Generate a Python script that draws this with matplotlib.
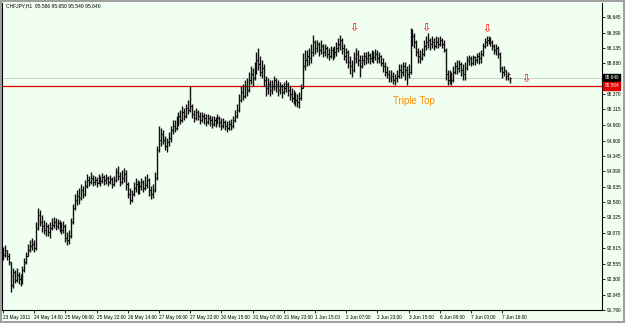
import matplotlib
matplotlib.use("Agg")
import matplotlib.pyplot as plt
import matplotlib.transforms as mtransforms
import numpy as np

plt.rcParams["font.family"] = ["Liberation Sans", "DejaVu Sans"]

# ---- data (CHFJPY H1) ----
symbol = "CHFJPY,H1"
last_ohlc = [95.586, 95.650, 95.549, 95.640]

closes = [
    92.70, 92.78, 92.68, 92.58, 92.20, 92.42, 92.29, 92.37, 92.30, 92.25,
    92.45, 92.58, 92.68, 92.78, 92.85, 92.88, 92.82, 93.15, 93.37, 93.25,
    93.18, 93.12, 93.18, 93.08, 93.15, 93.20, 93.25, 93.18, 93.23, 93.15,
    93.12, 93.18, 92.98, 92.95, 93.02, 93.25, 93.48, 93.61, 93.68, 93.65,
    93.78, 93.71, 93.85, 93.95, 93.91, 93.98, 93.91, 93.95, 93.90, 93.96,
    93.93, 94.00, 93.95, 93.98, 93.91, 93.96, 93.88, 93.95, 94.08, 94.01,
    93.91, 93.98, 94.05, 93.88, 93.71, 93.61, 93.71, 93.81, 93.88, 93.78,
    93.85, 93.91, 93.81, 93.86, 93.95, 93.78, 93.71, 93.78, 93.98, 94.44,
    94.61, 94.71, 94.61, 94.51, 94.57, 94.64, 94.77, 94.84, 94.81, 94.91,
    95.00, 94.94, 95.07, 95.00, 95.14, 95.10, 95.17, 95.04, 94.97, 95.07,
    95.00, 94.94, 95.00, 94.97, 94.91, 94.97, 94.94, 94.87, 94.94, 94.91,
    94.97, 94.91, 94.84, 94.91, 94.84, 94.81, 94.87, 94.84, 94.94, 95.00,
    95.10, 95.27, 95.40, 95.34, 95.50, 95.44, 95.60, 95.70, 95.63, 95.77,
    95.93, 95.87, 95.73, 95.80, 95.60, 95.47, 95.54, 95.44, 95.50, 95.60,
    95.54, 95.44, 95.50, 95.40, 95.47, 95.54, 95.44, 95.37, 95.30, 95.34,
    95.27, 95.24, 95.30, 95.47, 95.83, 95.93, 96.00, 95.96, 96.06, 96.23,
    96.13, 96.20, 96.10, 96.16, 96.06, 96.13, 96.03, 96.00, 96.10, 96.03,
    96.06, 96.13, 96.20, 96.26, 96.13, 96.00, 96.06, 95.90, 95.83, 95.77,
    95.96, 96.03, 95.93, 95.83, 95.93, 96.00, 95.96, 96.01, 95.96, 96.03,
    95.98, 96.03, 95.96, 96.00, 95.88, 95.83, 95.73, 95.70, 95.63, 95.67,
    95.60, 95.63, 95.67, 95.77, 95.73, 95.83, 95.77, 95.70, 95.73, 96.20,
    96.33, 96.23, 96.06, 96.00, 95.96, 96.03, 96.16, 96.23, 96.26, 96.20,
    96.23, 96.16, 96.23, 96.20, 96.26, 96.20, 96.10, 95.70, 95.60, 95.67,
    95.60, 95.73, 95.83, 95.80, 95.87, 95.77, 95.70, 95.80, 95.93, 95.96,
    95.88, 95.98, 95.93, 96.00, 95.96, 96.03, 96.16, 96.23, 96.26, 96.30,
    96.23, 96.16, 96.10, 96.13, 96.03, 95.80, 95.73, 95.77, 95.67, 95.70,
    95.64,
]
highs = [
    92.83, 92.87, 92.78, 92.73, 92.58, 92.48, 92.45, 92.48, 92.42, 92.39,
    92.52, 92.65, 92.75, 92.88, 92.95, 92.98, 92.95, 93.25, 93.48, 93.45,
    93.37, 93.28, 93.25, 93.22, 93.25, 93.32, 93.33, 93.32, 93.30, 93.28,
    93.25, 93.27, 93.22, 93.08, 93.12, 93.32, 93.55, 93.71, 93.78, 93.81,
    93.88, 93.85, 93.95, 94.05, 94.01, 94.08, 94.03, 94.01, 94.00, 94.05,
    94.01, 94.06, 94.03, 94.05, 94.01, 94.03, 94.00, 94.01, 94.15, 94.18,
    94.08, 94.11, 94.15, 94.11, 93.91, 93.81, 93.78, 93.91, 93.98, 93.95,
    93.93, 93.98, 93.95, 94.01, 94.05, 93.98, 93.85, 93.88, 94.08, 94.51,
    94.84, 94.81, 94.77, 94.67, 94.64, 94.74, 94.84, 94.94, 94.94, 95.00,
    95.07, 95.10, 95.17, 95.14, 95.20, 95.27, 95.50, 95.20, 95.10, 95.14,
    95.10, 95.07, 95.07, 95.05, 95.04, 95.04, 95.02, 95.00, 95.00, 94.99,
    95.04, 95.00, 94.97, 94.97, 94.94, 94.92, 94.94, 94.96, 95.00, 95.10,
    95.20, 95.37, 95.50, 95.54, 95.60, 95.63, 95.73, 95.83, 95.80, 95.90,
    96.06, 96.13, 96.00, 95.93, 95.87, 95.67, 95.63, 95.60, 95.60, 95.67,
    95.63, 95.60, 95.57, 95.54, 95.57, 95.60, 95.57, 95.50, 95.47, 95.44,
    95.40, 95.37, 95.40, 95.54, 96.05, 96.10, 96.10, 96.13, 96.20, 96.35,
    96.26, 96.26, 96.23, 96.26, 96.20, 96.20, 96.16, 96.13, 96.16, 96.15,
    96.16, 96.23, 96.30, 96.35, 96.30, 96.20, 96.13, 96.10, 96.00, 95.93,
    96.06, 96.13, 96.10, 96.02, 96.02, 96.06, 96.06, 96.08, 96.05, 96.10,
    96.08, 96.11, 96.10, 96.06, 96.02, 95.96, 95.90, 95.83, 95.77, 95.77,
    95.73, 95.70, 95.77, 95.87, 95.87, 95.90, 95.90, 95.83, 95.87, 96.46,
    96.45, 96.38, 96.26, 96.13, 96.10, 96.13, 96.26, 96.33, 96.38, 96.30,
    96.33, 96.30, 96.33, 96.31, 96.33, 96.30, 96.26, 96.13, 95.77, 95.77,
    95.73, 95.83, 95.90, 95.93, 95.93, 95.90, 95.87, 95.90, 96.00, 96.02,
    96.00, 96.02, 96.00, 96.05, 96.06, 96.10, 96.21, 96.30, 96.33, 96.33,
    96.31, 96.26, 96.20, 96.20, 96.16, 96.06, 95.83, 95.83, 95.77, 95.73,
    95.65,
]
lows = [
    92.62, 92.67, 92.62, 92.53, 92.09, 92.15, 92.24, 92.25, 92.22, 92.19,
    92.22, 92.42, 92.55, 92.68, 92.75, 92.78, 92.75, 92.78, 93.12, 93.18,
    93.08, 93.05, 93.02, 93.02, 92.98, 93.12, 93.15, 93.12, 93.13, 93.08,
    93.05, 93.07, 92.92, 92.87, 92.88, 92.98, 93.22, 93.45, 93.53, 93.55,
    93.61, 93.65, 93.68, 93.81, 93.85, 93.88, 93.85, 93.86, 93.83, 93.88,
    93.85, 93.90, 93.86, 93.88, 93.85, 93.88, 93.81, 93.85, 93.91, 93.95,
    93.85, 93.88, 93.91, 93.78, 93.65, 93.55, 93.58, 93.68, 93.75, 93.71,
    93.71, 93.78, 93.75, 93.78, 93.81, 93.68, 93.63, 93.65, 93.75, 93.95,
    94.41, 94.51, 94.54, 94.44, 94.41, 94.51, 94.57, 94.71, 94.74, 94.77,
    94.84, 94.87, 94.91, 94.94, 94.97, 95.04, 95.07, 94.97, 94.91, 94.94,
    94.94, 94.87, 94.91, 94.87, 94.84, 94.87, 94.84, 94.81, 94.84, 94.82,
    94.87, 94.82, 94.77, 94.81, 94.77, 94.74, 94.77, 94.77, 94.81, 94.91,
    94.97, 95.07, 95.24, 95.27, 95.30, 95.34, 95.40, 95.54, 95.50, 95.60,
    95.70, 95.77, 95.67, 95.63, 95.50, 95.34, 95.37, 95.34, 95.37, 95.44,
    95.40, 95.34, 95.37, 95.30, 95.37, 95.40, 95.34, 95.27, 95.24, 95.20,
    95.17, 95.15, 95.14, 95.27, 95.47, 95.77, 95.83, 95.85, 95.88, 96.00,
    96.03, 96.06, 96.00, 96.03, 95.98, 96.00, 95.96, 95.93, 95.96, 95.93,
    95.96, 96.00, 96.06, 96.10, 96.03, 95.93, 95.88, 95.80, 95.70, 95.65,
    95.73, 95.88, 95.83, 95.65, 95.80, 95.85, 95.87, 95.88, 95.87, 95.90,
    95.88, 95.93, 95.88, 95.88, 95.83, 95.73, 95.67, 95.63, 95.57, 95.57,
    95.54, 95.52, 95.57, 95.63, 95.63, 95.67, 95.60, 95.52, 95.63, 95.70,
    96.16, 96.13, 96.00, 95.88, 95.88, 95.93, 96.00, 96.10, 96.13, 96.10,
    96.13, 96.10, 96.13, 96.13, 96.16, 96.13, 96.06, 95.60, 95.52, 95.54,
    95.52, 95.57, 95.70, 95.70, 95.73, 95.67, 95.60, 95.60, 95.77, 95.85,
    95.83, 95.85, 95.85, 95.88, 95.87, 95.88, 96.00, 96.13, 96.16, 96.20,
    96.16, 96.10, 96.03, 96.02, 95.96, 95.73, 95.63, 95.67, 95.60, 95.60,
    95.55,
]
first_open = 92.74
# FX bars: each bar opens where the previous one closed
opens = [first_open] + closes[:-1]

time_labels = ["23 May 2011", "24 May 14:00", "25 May 06:00", "25 May 22:00",
               "26 May 14:00", "27 May 06:00", "27 May 22:00", "30 May 15:00",
               "31 May 07:00", "31 May 23:00", "1 Jun 15:00", "2 Jun 07:00",
               "2 Jun 23:00", "3 Jun 15:00", "6 Jun 08:00", "7 Jun 00:00",
               "7 Jun 16:00"]
label_every = 16

price_ticks = [91.790, 92.045, 92.300, 92.555, 92.815, 93.070, 93.325, 93.580,
               93.835, 94.090, 94.345, 94.600, 94.860, 95.115, 95.370, 95.625,
               95.880, 96.135, 96.390, 96.645]

support_level = 95.504
bid = 95.640

arrow_bars = [180, 217, 248, 268]
arrow_prices = [96.47, 96.47, 96.46, 95.63]

pattern_name = "Triple Top"
pattern_bar = 211
pattern_price = 95.25

# ---- figure ----
bg = "#F0FFF0"
W, H = 625, 323
fig = plt.figure(figsize=(W / 100, H / 100), dpi=100)
fig.patch.set_facecolor(bg)
fig.patch.set_edgecolor("#a0a0a0")
fig.patch.set_linewidth(1.5)

ax = fig.add_axes([2 / W, 13 / H, 600 / W, 307 / H])
ax.set_facecolor(bg)
ax.set_xlim(-0.5, 307.2)
ax.set_ylim(91.79, 96.88)

x = np.arange(len(closes))
ax.axhline(bid, color="#c8c8c8", lw=0.6, zorder=1)
ax.axhline(support_level, color="#e00000", lw=0.9, zorder=1)

bar_col = "#101010"
ax.vlines(x, lows, highs, color=bar_col, lw=1.0, zorder=2)
ax.hlines(opens, x - 0.7, x, color=bar_col, lw=0.8, zorder=2)
ax.hlines(closes, x, x + 0.7, color=bar_col, lw=0.8, zorder=2)

for b, p in zip(arrow_bars, arrow_prices):
    ax.text(b, p, "\u21e9", color="red", fontsize=8, ha="center", va="center",
            family=["DejaVu Sans"], zorder=4)

ax.text(pattern_bar, pattern_price, pattern_name, color="#FF8C00", fontsize=7,
        ha="center", va="center", zorder=4)

# axes frame, MT4 style
ax.spines["top"].set_visible(False)
for s in ("left", "bottom", "right"):
    ax.spines[s].set_color("black")
    ax.spines[s].set_linewidth(0.8)

ax.yaxis.tick_right()
ax.set_yticks(price_ticks)
# the 95.625 label sits under the bid box in the terminal, so leave it blank
ax.set_yticklabels(["" if abs(v - 95.625) < 1e-6 else f"{v:.3f}"
                    for v in price_ticks])
ax.tick_params(axis="y", length=2, width=0.6, pad=1.5, labelsize=3.4)

ax.set_xticks(np.arange(len(time_labels)) * label_every)
ax.set_xticklabels(time_labels, ha="left")
ax.tick_params(axis="x", length=2, width=0.6, pad=1.5, labelsize=3.4)

trans = mtransforms.blended_transform_factory(ax.transAxes, ax.transData)
for val, fc in ((bid, "black"), (support_level, "#e00000")):
    ax.text(1.004, val, f"{val:.3f}", transform=trans, color="white",
            fontsize=3.4, ha="left", va="center", clip_on=False, zorder=6,
            bbox=dict(boxstyle="square,pad=0.25", facecolor=fc, edgecolor=fc))

fig.text(6 / W, 1 - 6 / H,
         f"{symbol}  " + " ".join(f"{v:.3f}" for v in last_ohlc),
         fontsize=3.6, ha="left", va="center", color="black")

fig.savefig("out.png", dpi=100, facecolor=fig.get_facecolor(),
            edgecolor=fig.get_edgecolor())
